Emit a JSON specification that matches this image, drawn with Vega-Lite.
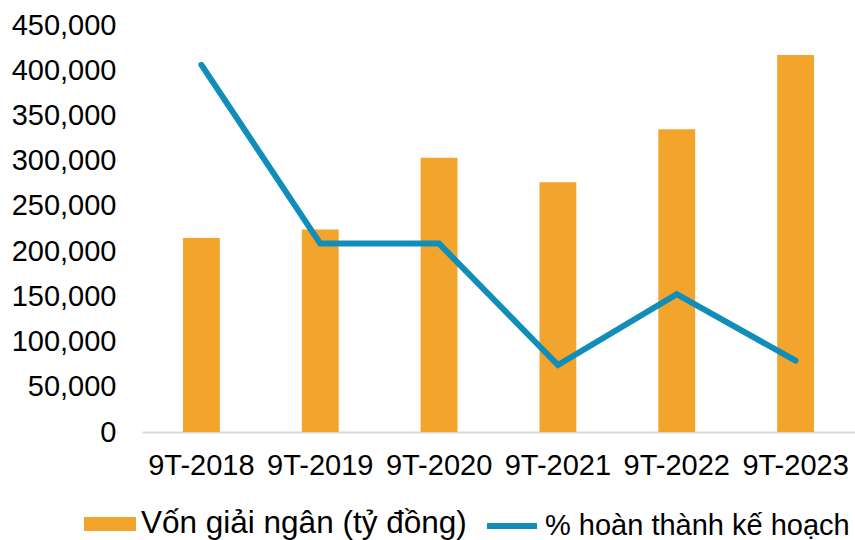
{
  "$schema": "https://vega.github.io/schema/vega-lite/v6.json",
  "width": 713,
  "height": 407,
  "autosize": {"type": "none"},
  "padding": {"left": 142, "top": 25, "right": 0, "bottom": 108},
  "background": "white",
  "config": {
    "view": {"stroke": null},
    "font": "Liberation Sans",
    "axis": {"labelFont": "Liberation Sans", "labelColor": "#000000"},
    "legend": {"labelFont": "Liberation Sans", "labelColor": "#000000", "labelLimit": 500}
  },
  "data": {
    "values": [
      {"period": "9T-2018", "von": 214600, "pct": 406000},
      {"period": "9T-2019", "von": 223800, "pct": 208300},
      {"period": "9T-2020", "von": 303100, "pct": 208300},
      {"period": "9T-2021", "von": 276200, "pct": 74100},
      {"period": "9T-2022", "von": 334800, "pct": 152300},
      {"period": "9T-2023", "von": 416700, "pct": 78900}
    ]
  },
  "encoding": {
    "x": {
      "field": "period",
      "type": "nominal",
      "sort": null,
      "scale": {"paddingInner": 0.69, "paddingOuter": 0.345},
      "axis": {
        "title": null,
        "labelAngle": 0,
        "labelFontSize": 29,
        "labelPadding": 19,
        "ticks": false,
        "domainColor": "#D9D9D9",
        "domainWidth": 2,
        "grid": false
      }
    }
  },
  "layer": [
    {
      "mark": {"type": "bar", "strokeWidth": 0},
      "transform": [{"calculate": "'Vốn giải ngân (tỷ đồng)'", "as": "s1"}],
      "encoding": {
        "y": {
          "field": "von",
          "type": "quantitative",
          "scale": {"domain": [0, 450000], "nice": false},
          "axis": {
            "title": null,
            "values": [0, 50000, 100000, 150000, 200000, 250000, 300000, 350000, 400000, 450000],
            "format": ",d",
            "labelFontSize": 29,
            "labelPadding": 26,
            "ticks": false,
            "domain": false,
            "grid": false
          }
        },
        "fill": {
          "field": "s1",
          "type": "nominal",
          "scale": {"range": ["#F2A42C"]},
          "legend": {
            "title": null,
            "orient": "none",
            "legendX": -58,
            "legendY": 473,
            "symbolType": "M-1,-0.27H1V0.27H-1Z",
            "symbolSize": 2704,
            "symbolStrokeWidth": 0,
            "labelFontSize": 31.5,
            "labelOffset": 5,
            "labelLimit": 500
          }
        }
      }
    },
    {
      "mark": {"type": "line", "strokeWidth": 6, "strokeCap": "round", "strokeJoin": "miter"},
      "transform": [{"calculate": "'% hoàn thành kế hoạch'", "as": "s2"}],
      "encoding": {
        "y": {"field": "pct", "type": "quantitative"},
        "stroke": {
          "field": "s2",
          "type": "nominal",
          "scale": {"range": ["#118DBA"]},
          "legend": {
            "title": null,
            "orient": "none",
            "legendX": 342,
            "legendY": 473,
            "symbolType": "stroke",
            "symbolSize": 2500,
            "symbolStrokeWidth": 6,
            "labelFontSize": 29,
            "labelOffset": 5,
            "labelLimit": 500
          }
        }
      }
    }
  ]
}
